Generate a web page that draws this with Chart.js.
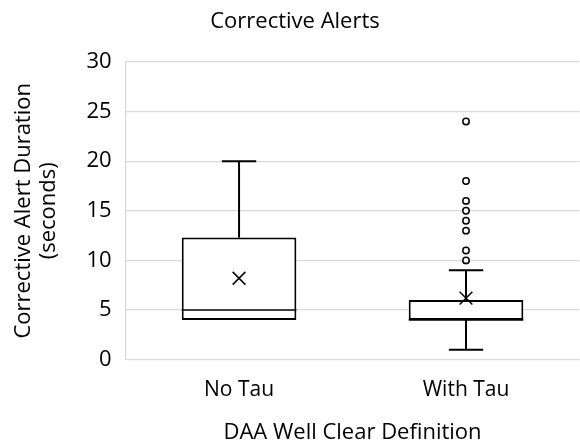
<!DOCTYPE html>
<html>
<head>
<meta charset="utf-8">
<script src="https://cdn.jsdelivr.net/npm/chart.js@4.4.1/dist/chart.umd.min.js"></script>
<style>
  html, body { margin: 0; padding: 0; background: #fff; overflow: hidden; }
  #wrap { width: 590px; height: 445px; }
</style>
</head>
<body>
<div id="wrap"><canvas id="box"></canvas></div>
<script>
// box plot data
const categories = ["No Tau", "With Tau"];
const whiskerLow  = [4, 1];
const q1          = [4, 4];
const median      = [5, 4];
const q3          = [12.3, 6];
const whiskerHigh = [20, 9];
const means       = [8.2, 6.2];
const outliers    = [[], [10, 11, 13, 14, 15, 16, 18, 24]];
const yTicks      = [0, 5, 10, 15, 20, 25, 30];

const FONT = "'Open Sans', 'Noto Sans', sans-serif";

// whiskers + median lines, placed with the chart's own scales
const whiskerPlugin = {
  id: "whiskers",
  afterDatasetsDraw(chart) {
    const ctx = chart.ctx;
    const x = chart.scales.x, y = chart.scales.y;
    const meta = chart.getDatasetMeta(0);
    ctx.save();
    ctx.strokeStyle = "#000";
    ctx.lineWidth = 2;
    const seg = (x1, y1, x2, y2) => { ctx.beginPath(); ctx.moveTo(x1, y1); ctx.lineTo(x2, y2); ctx.stroke(); };
    categories.forEach((c, i) => {
      const cx = x.getPixelForValue(i);
      const bw = meta.data[i].width;
      const cap = bw * 0.3;
      if (whiskerHigh[i] > q3[i]) {
        const yh = y.getPixelForValue(whiskerHigh[i]);
        seg(cx, y.getPixelForValue(q3[i]), cx, yh);
        seg(cx - cap / 2, yh, cx + cap / 2, yh);
      }
      if (whiskerLow[i] < q1[i]) {
        const yl = y.getPixelForValue(whiskerLow[i]);
        seg(cx, y.getPixelForValue(q1[i]), cx, yl);
        seg(cx - cap / 2, yl, cx + cap / 2, yl);
      }
      const my = y.getPixelForValue(median[i]);
      ctx.lineWidth = 1.6;
      seg(cx - bw / 2, my, cx + bw / 2, my);
      ctx.lineWidth = 2;
    });
    ctx.restore();
  }
};

const outlierPoints = [];
outliers.forEach((arr, i) => arr.forEach(v => outlierPoints.push({ x: categories[i], y: v })));

new Chart(document.getElementById("box"), {
  type: "bar",
  data: {
    labels: categories,
    datasets: [
      {
        label: "Box",
        data: categories.map((c, i) => [q1[i], q3[i]]),
        backgroundColor: "#fff",
        borderColor: "#000",
        borderWidth: 2,
        borderSkipped: false,
        barPercentage: 0.505,
        categoryPercentage: 1,
        order: 2
      },
      {
        type: "line",
        label: "Mean",
        data: categories.map((c, i) => ({ x: c, y: means[i] })),
        showLine: false,
        pointStyle: "crossRot",
        pointRadius: 9,
        borderColor: "#000",
        borderWidth: 1.5,
        order: 0
      },
      {
        type: "line",
        label: "Outliers",
        data: outlierPoints,
        showLine: false,
        pointStyle: "circle",
        pointRadius: 3.2,
        backgroundColor: "#fff",
        borderColor: "#000",
        borderWidth: 1.5,
        order: 0
      }
    ]
  },
  options: {
    responsive: true,
    maintainAspectRatio: false,
    animation: false,
    layout: { padding: 0 },
    plugins: {
      legend: { display: false },
      tooltip: { enabled: false },
      title: {
        display: true,
        text: "Corrective Alerts",
        color: "#000",
        font: { family: FONT, size: 22, weight: "normal", lineHeight: 1.2 },
        padding: { top: 9, bottom: 26.6 }
      }
    },
    scales: {
      x: {
        grid: { display: false, drawTicks: false },
        border: { display: false },
        ticks: { color: "#000", font: { family: FONT, size: 21, lineHeight: 1.2 }, padding: 18 },
        title: {
          display: true,
          text: "DAA Well Clear Definition",
          color: "#000",
          font: { family: FONT, size: 22, lineHeight: 1.1 },
          padding: { top: 0, bottom: 0 }
        }
      },
      y: {
        min: 0,
        max: 30,
        afterBuildTicks: (s) => { s.ticks = yTicks.map(v => ({ value: v })); },
        grid: { color: "#d9d9d9", lineWidth: 1.3, drawTicks: false },
        border: { display: true, color: "#d9d9d9", width: 1.3 },
        ticks: { color: "#000", font: { family: FONT, size: 22 }, padding: 14 },
        title: {
          display: true,
          text: ["Corrective Alert Duration", "(seconds)"],
          color: "#000",
          font: { family: FONT, size: 22, lineHeight: 1.1 },
          padding: { top: 12, bottom: 12 }
        }
      }
    }
  },
  plugins: [whiskerPlugin]
});
</script>
</body>
</html>
